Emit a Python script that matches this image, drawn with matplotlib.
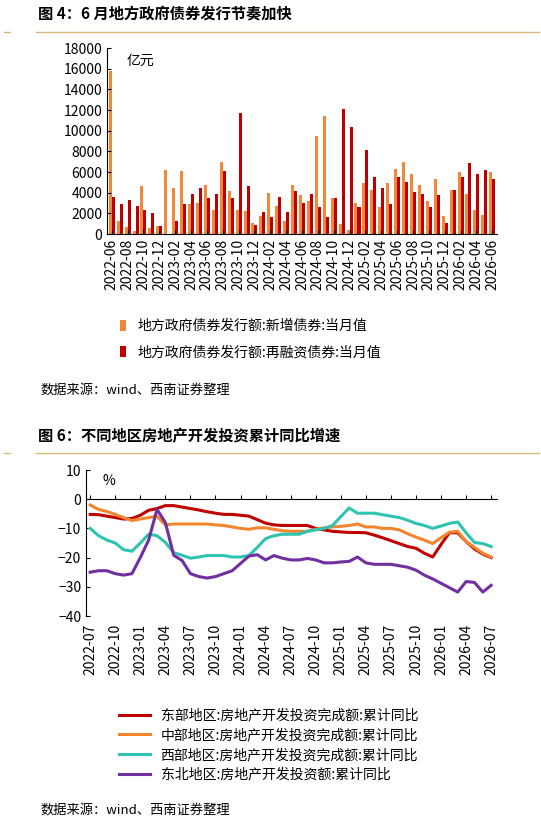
import matplotlib
matplotlib.use("Agg")
import matplotlib.pyplot as plt
import numpy as np
import pandas as pd

plt.rcParams['font.family'] = ['Noto Sans CJK SC', 'DejaVu Sans']

# ---- top chart data: 2022-06 .. 2026-06 ----
bond_months = pd.period_range("2022-06", "2026-06", freq="M").strftime("%Y-%m").tolist()
new_bonds = [15800, 1300, 700, 250, 4600, 550, 800, 6200, 4500, 6100, 2900, 3000, 4700,
             2300, 7000, 4200, 2300, 2200, 1100, 1700, 4000, 2700, 1300, 4700, 3800,
             3200, 9500, 11400, 3500, 1000, 400, 3000, 4900, 4300, 2600, 4900, 6300,
             7000, 5800, 4700, 3200, 5300, 1700, 4300, 6000, 3900, 2300, 1800, 6000]
refi_bonds = [3600, 2900, 3300, 2750, 2300, 2000, 800, 0, 1300, 2900, 3900, 4500, 3500,
              3900, 6100, 3500, 11700, 4600, 850, 2100, 1600, 3600, 2100, 4200, 3000,
              3900, 2600, 1600, 3500, 12100, 10400, 2600, 8100, 5500, 4500, 2900, 5500,
              5000, 4100, 3900, 2600, 3800, 1100, 4300, 5500, 6900, 5800, 6200, 5300]

# ---- bottom chart data: 2022-07 .. 2026-07 ----
inv_months = pd.period_range("2022-07", "2026-07", freq="M").strftime("%Y-%m").tolist()
east = [-5.2, -5.3, -5.8, -6.3, -6.8, -6.6, -5.5, -3.8, -3.2, -2.2, -2.2, -2.7, -3.2, -3.7,
        -4.3, -4.8, -5.2, -5.2, -5.5, -5.8, -7, -8.2, -8.8, -9, -9, -9, -9, -10, -10.5, -11,
        -11.2, -11.4, -11.4, -11.5, -12.3, -13.2, -14.2, -15.2, -16.2, -16.8, -18.5, -19.8,
        -15.5, -11.5, -11.5, -14.5, -17, -18.8, -20]
central = [-2, -3.5, -4.2, -5.2, -6.3, -7.3, -6.8, -6.3, -5.8, -8.8, -8.5, -8.5, -8.5, -8.5,
           -8.5, -8.8, -9, -9.5, -10, -10.3, -9.8, -9.8, -10.3, -10.8, -11, -11, -11, -10.3,
           -9.8, -9.5, -9.3, -9, -8.5, -9.5, -9.5, -10, -10, -10.5, -11.8, -13, -14, -15.2,
           -13.2, -11.3, -11, -14.5, -16.5, -18.5, -19.8]
west = [-10, -12.5, -14, -15, -17.3, -17.8, -15, -12, -12.5, -14.8, -18.3, -19.2, -20.2,
        -19.8, -19.3, -19.3, -19.3, -19.8, -19.8, -19.3, -16.5, -13.5, -12.5, -12, -12, -12,
        -11, -10.5, -10, -9, -6, -3, -4.8, -4.8, -4.8, -5.3, -5.8, -6.3, -7.2, -8.3, -9, -10,
        -9.2, -8.3, -7.8, -11.5, -14.8, -15.2, -16.2]
northeast = [-25, -24.5, -24.5, -25.5, -26, -25.5, -20, -14, -3.5, -8, -19.2, -21, -25.5,
             -26.5, -27, -26.5, -25.5, -24.5, -22, -19.5, -19, -20.8, -19.3, -20.2, -20.8,
             -20.8, -20.3, -20.8, -21.8, -21.8, -21.5, -21.3, -19.8, -21.8, -22.3, -22.3,
             -22.3, -22.8, -23.3, -24.3, -26, -27.3, -28.8, -30.3, -31.8, -28.2, -28.5,
             -31.8, -29.5]

W, H = 541, 826
fig = plt.figure(figsize=(W / 100, H / 100), dpi=100)
gold = '#D9B77E'


def px_axes(left, top, right, bottom):
    return fig.add_axes([left / W, 1 - bottom / H, (right - left) / W, (bottom - top) / H])


def header(y_title, y_line, text):
    fig.text(38 / W, 1 - y_title / H, text, fontsize=11, fontweight='bold', va='center')
    fig.add_artist(plt.Line2D([36 / W, 1 - 2 / W], [1 - y_line / H] * 2, color=gold, lw=1))
    fig.add_artist(plt.Line2D([4 / W, 10 / W], [1 - y_line / H] * 2, color=gold, lw=1))


def style(ax):
    for s in ['top', 'right']:
        ax.spines[s].set_visible(False)
    ax.tick_params(labelsize=10, direction='in', length=3)


# ---- top ----
header(14, 32, '图 4：6 月地方政府债券发行节奏加快')
ax1 = px_axes(107, 48, 497, 234)
x = np.arange(len(bond_months))
w = 0.38
ax1.bar(x - w / 2, new_bonds, w, color='#F0883A', label='地方政府债券发行额:新增债券:当月值')
ax1.bar(x + w / 2, refi_bonds, w, color='#C00000', label='地方政府债券发行额:再融资债券:当月值')
ax1.set_xlim(-0.6, len(x) - 0.4)
ax1.set_ylim(0, 18000)
ax1.set_yticks(range(0, 18001, 2000))
ax1.set_xticks(x[::2])
ax1.set_xticklabels(bond_months[::2], rotation=90)
style(ax1)
ax1.text(0.05, 0.97, '亿元', transform=ax1.transAxes, fontsize=10, va='top')
ax1.legend(loc='upper left', bbox_to_anchor=(0.0, -0.39), frameon=False, fontsize=10,
           handlelength=0.5, handleheight=0.8, labelspacing=0.9)
fig.text(40 / W, 1 - 390 / H, '数据来源：wind、西南证券整理', fontsize=9.5, style='italic', va='center')

# ---- bottom ----
header(436, 453, '图 6：不同地区房地产开发投资累计同比增速')
ax2 = px_axes(86, 470, 497, 616)
xi = np.arange(len(inv_months))
ax2.plot(xi, east, color='#C00000', lw=2.2, label='东部地区:房地产开发投资完成额:累计同比')
ax2.plot(xi, central, color='#F4852F', lw=2.2, label='中部地区:房地产开发投资完成额:累计同比')
ax2.plot(xi, west, color='#2EC4B0', lw=2.2, label='西部地区:房地产开发投资完成额:累计同比')
ax2.plot(xi, northeast, color='#7030A0', lw=2.2, label='东北地区:房地产开发投资额:累计同比')
ax2.set_ylim(-40, 10)
ax2.set_xlim(-0.5, len(xi) - 0.3)
ax2.set_yticks(range(-40, 11, 10))
ax2.spines['bottom'].set_position(('data', 0))
ax2.set_xticks(xi[::3])
ax2.set_xticklabels(inv_months[::3])
style(ax2)
ax2.tick_params(axis='x', pad=90)
plt.setp(ax2.get_xticklabels(), rotation=90, va='top', ha='center')
ax2.text(0.04, 0.97, '%', transform=ax2.transAxes, fontsize=10, va='top')
ax2.legend(loc='upper left', bbox_to_anchor=(0.05, -0.55), frameon=False, fontsize=10,
           handlelength=2.2, labelspacing=0.4)
fig.text(40 / W, 1 - 810 / H, '数据来源：wind、西南证券整理', fontsize=9.5, style='italic', va='center')

fig.savefig('out.png', dpi=100)
